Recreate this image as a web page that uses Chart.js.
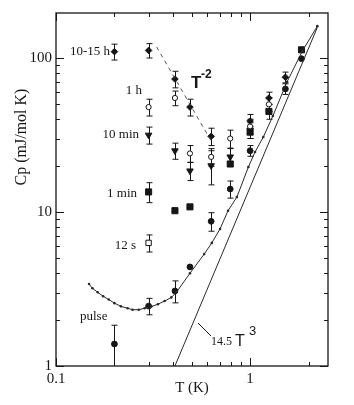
<!DOCTYPE html>
<html>
<head>
<meta charset="utf-8">
<script src="https://cdn.jsdelivr.net/npm/chart.js@4.4.1/dist/chart.umd.min.js"></script>
<style>
  html, body { margin: 0; padding: 0; background: #fff; }
  #c { display: block; }
</style>
</head>
<body>
<canvas id="c" width="354" height="405"></canvas>
<script>
// Ticks con etiqueta
const X_TICKS = [0.1, 1];
const Y_TICKS = [1, 10, 100];

// 10-15 h (rombos llenos)
const T_15H = [0.2, 0.3, 0.41, 0.49, 0.63, 1.0, 1.25, 1.52];
const CP_15H = [110, 112, 73, 48, 31, 39, 55, 75];
const ERR_15H = [13, 12, 9, 6, 4, 4, 5, 6];

// 1 h (círculos abiertos)
const T_1H = [0.3, 0.41, 0.49, 0.63, 0.79, 1.0, 1.25];
const CP_1H = [48, 55, 24, 22.8, 30, 36, 50];
const ERR_1H = [6, 6, 3, 3, 4, 4, 5];

// 10 min (triángulos)
const T_10MIN = [0.3, 0.41, 0.49, 0.63, 0.79, 1.0];
const CP_10MIN = [31.6, 25, 18.5, 20, 22.8, 34];
const ERR_10MIN = [4, 3, 2.5, 5, 3, 4];

// 1 min (cuadrados llenos)
const T_1MIN = [0.3, 0.41, 0.49, 0.79, 1.0, 1.25, 1.84];
const CP_1MIN = [13.5, 10.2, 10.8, 20.5, 33, 45, 113];
const ERR_1MIN = [2, 0, 0, 0, 3, 5, 0];

// 12 s (cuadrado abierto)
const T_12S = [0.3];
const CP_12S = [6.3];
const ERR_12S = [0.8];

// pulso (círculos llenos)
const T_PULSE = [0.2, 0.3, 0.41, 0.49, 0.63, 0.79, 1.0, 1.52, 1.84];
const CP_PULSE = [1.39, 2.45, 3.07, 4.4, 8.7, 14.1, 25, 63, 99];
const ERR_PULSE = [0.45, 0.3, 0.5, 0, 1.2, 1.8, 2, 5, 0];

// Curva medida (línea con puntitos)
const T_CURVE = [0.148, 0.154, 0.164, 0.175, 0.187, 0.200, 0.216, 0.234, 0.248, 0.267,
                 0.286, 0.310, 0.335, 0.363, 0.393, 0.417, 0.49, 0.58, 0.635, 0.70,
                 0.77, 0.855, 0.98, 1.06, 1.17, 1.31, 1.55, 1.86, 2.22];
const CP_CURVE = [3.41, 3.20, 3.01, 2.84, 2.70, 2.56, 2.44, 2.37, 2.32, 2.32,
                  2.37, 2.43, 2.52, 2.64, 2.79, 3.01, 4.0, 5.33, 6.3, 7.76,
                  10.2, 12.5, 19.6, 24.5, 30.7, 42, 70, 111, 161];

// Recta 14.5 T^3 y guía T^-2 (extremos)
const T_T3 = [0.41, 2.22];
const CP_T3 = [1.0, 158];
const T_TM2 = [0.33, 0.643];
const CP_TM2 = [118, 27.7];

const INK = '#161616';
const SERIF = "'Liberation Serif', 'DejaVu Serif', serif";
const SANS = "'Liberation Sans', Arial, sans-serif";

const zip = (xs, ys) => xs.map((x, i) => ({ x, y: ys[i] }));

function markerSet(label, xs, ys, errs, style, radius, filled, rotation = 0) {
    return {
        label,
        data: zip(xs, ys),
        errors: errs,
        showLine: false,
        pointStyle: style,
        pointRadius: radius,
        pointRotation: rotation,
        pointBackgroundColor: filled ? INK : '#ffffff',
        pointBorderColor: INK,
        pointBorderWidth: 1
    };
}

// Barras de error verticales con tope
const errorBars = {
    id: 'errorBars',
    beforeDatasetsDraw(chart) {
        const { ctx, chartArea, scales: { x, y } } = chart;
        ctx.save();
        ctx.beginPath();
        ctx.rect(chartArea.left, chartArea.top, chartArea.right - chartArea.left, chartArea.bottom - chartArea.top);
        ctx.clip();
        ctx.strokeStyle = INK;
        ctx.lineWidth = 1;
        chart.data.datasets.forEach(ds => {
            if (!ds.errors) return;
            ds.data.forEach((p, i) => {
                const e = ds.errors[i];
                if (!e) return;
                const px = Math.round(x.getPixelForValue(p.x)) + 0.5;
                const yHi = y.getPixelForValue(p.y + e);
                const yLo = y.getPixelForValue(Math.max(p.y - e, 0.5));
                ctx.beginPath();
                ctx.moveTo(px, yHi);
                ctx.lineTo(px, yLo);
                ctx.moveTo(px - 3, yHi);
                ctx.lineTo(px + 3, yHi);
                ctx.moveTo(px - 3, yLo);
                ctx.lineTo(px + 3, yLo);
                ctx.stroke();
            });
        });
        ctx.restore();
    }
};

// Marco, ticks hacia dentro y textos
const frame = {
    id: 'frame',
    afterDraw(chart) {
        const { ctx, chartArea: a, scales: { x, y } } = chart;
        ctx.save();
        ctx.strokeStyle = INK;
        ctx.lineWidth = 1.3;
        ctx.strokeRect(a.left, a.top, a.right - a.left, a.bottom - a.top);

        ctx.lineWidth = 1;
        ctx.beginPath();
        [0.1, 1].forEach(dec => {
            for (let m = 1; m <= 9; m++) {
                const v = dec * m;
                if (v < x.min || v > x.max) continue;
                const px = Math.round(x.getPixelForValue(v)) + 0.5;
                const len = m === 1 ? 8 : 4;
                ctx.moveTo(px, a.bottom); ctx.lineTo(px, a.bottom - len);
                ctx.moveTo(px, a.top); ctx.lineTo(px, a.top + len);
            }
        });
        [1, 10, 100].forEach(dec => {
            for (let m = 1; m <= 9; m++) {
                const v = dec * m;
                if (v < y.min || v > y.max) continue;
                const py = Math.round(y.getPixelForValue(v)) + 0.5;
                const len = m === 1 ? 8 : 4;
                ctx.moveTo(a.left, py); ctx.lineTo(a.left + len, py);
                ctx.moveTo(a.right, py); ctx.lineTo(a.right - len, py);
            }
        });
        ctx.stroke();

        ctx.fillStyle = INK;
        ctx.textBaseline = 'middle';

        // título eje Y
        ctx.save();
        ctx.translate(22, 137);
        ctx.rotate(-Math.PI / 2);
        ctx.textAlign = 'center';
        ctx.font = `16px ${SERIF}`;
        ctx.fillText('Cp (mJ/mol K)', 0, 0);
        ctx.restore();

        // etiquetas de las series
        ctx.font = `13px ${SERIF}`;
        ctx.textAlign = 'right';
        ctx.fillText('10-15 h', 110, 52);
        ctx.fillText('1 h', 142, 91);
        ctx.fillText('10 min', 139, 135);
        ctx.fillText('1 min', 137, 194);
        ctx.fillText('12 s', 136, 246);
        ctx.textAlign = 'left';
        ctx.fillText('pulse', 80, 317);

        // T^-2
        ctx.textBaseline = 'alphabetic';
        ctx.font = `bold 17px ${SANS}`;
        ctx.fillText('T', 191, 88);
        ctx.font = `bold 12px ${SANS}`;
        ctx.fillText('-2', 201, 78);

        // 14.5 T^3 con línea guía
        ctx.font = `12px ${SERIF}`;
        ctx.fillText('14.5', 211, 345);
        ctx.font = `16px ${SANS}`;
        ctx.fillText('T', 235, 346);
        ctx.font = `13px ${SANS}`;
        ctx.fillText('3', 249, 335);
        ctx.beginPath();
        ctx.moveTo(198, 323);
        ctx.lineTo(211, 336);
        ctx.stroke();
        ctx.restore();
    }
};

new Chart(document.getElementById('c'), {
    type: 'scatter',
    data: {
        datasets: [
            {
                label: 'curve',
                data: zip(T_CURVE, CP_CURVE),
                showLine: true,
                borderColor: '#2a2a2a',
                borderWidth: 1,
                pointRadius: 1.3,
                pointBackgroundColor: '#2a2a2a',
                pointBorderWidth: 0
            },
            {
                label: '14.5 T^3',
                data: zip(T_T3, CP_T3),
                showLine: true,
                borderColor: '#2a2a2a',
                borderWidth: 1,
                pointRadius: 0
            },
            {
                label: 'T^-2',
                data: zip(T_TM2, CP_TM2),
                showLine: true,
                borderColor: '#555',
                borderWidth: 1,
                borderDash: [4, 4],
                pointRadius: 0
            },
            markerSet('10-15 h', T_15H, CP_15H, ERR_15H, 'rectRot', 3.3, true),
            markerSet('1 h', T_1H, CP_1H, ERR_1H, 'circle', 2.6, false),
            markerSet('10 min', T_10MIN, CP_10MIN, ERR_10MIN, 'triangle', 3.8, true, 180),
            markerSet('1 min', T_1MIN, CP_1MIN, ERR_1MIN, 'rect', 4.3, true),
            markerSet('12 s', T_12S, CP_12S, ERR_12S, 'rect', 3.8, false),
            markerSet('pulse', T_PULSE, CP_PULSE, ERR_PULSE, 'circle', 2.9, true)
        ]
    },
    options: {
        responsive: false,
        animation: false,
        devicePixelRatio: 1,
        layout: { padding: { top: 13, right: 26, left: 0, bottom: 0 } },
        plugins: {
            legend: { display: false },
            tooltip: { enabled: false }
        },
        scales: {
            x: {
                type: 'logarithmic',
                min: 0.1,
                max: 2.52,
                grid: { display: false, drawTicks: false },
                border: { display: false },
                ticks: {
                    color: INK,
                    font: { family: SERIF, size: 15 },
                    padding: 4,
                    maxRotation: 0,
                    autoSkip: false,
                    callback: v => String(v)
                },
                title: {
                    display: true,
                    text: 'T (K)',
                    color: INK,
                    font: { family: SERIF, size: 15 },
                    padding: { top: 0, bottom: 8 }
                },
                afterBuildTicks: s => { s.ticks = X_TICKS.map(v => ({ value: v })); },
                afterFit: s => { s.height = 39; }
            },
            y: {
                type: 'logarithmic',
                min: 1,
                max: 196,
                grid: { display: false, drawTicks: false },
                border: { display: false },
                ticks: {
                    color: INK,
                    font: { family: SERIF, size: 15 },
                    padding: 4,
                    autoSkip: false,
                    callback: v => String(v)
                },
                afterBuildTicks: s => { s.ticks = Y_TICKS.map(v => ({ value: v })); },
                afterFit: s => { s.width = 56; }
            }
        }
    },
    plugins: [errorBars, frame]
});
</script>
</body>
</html>
